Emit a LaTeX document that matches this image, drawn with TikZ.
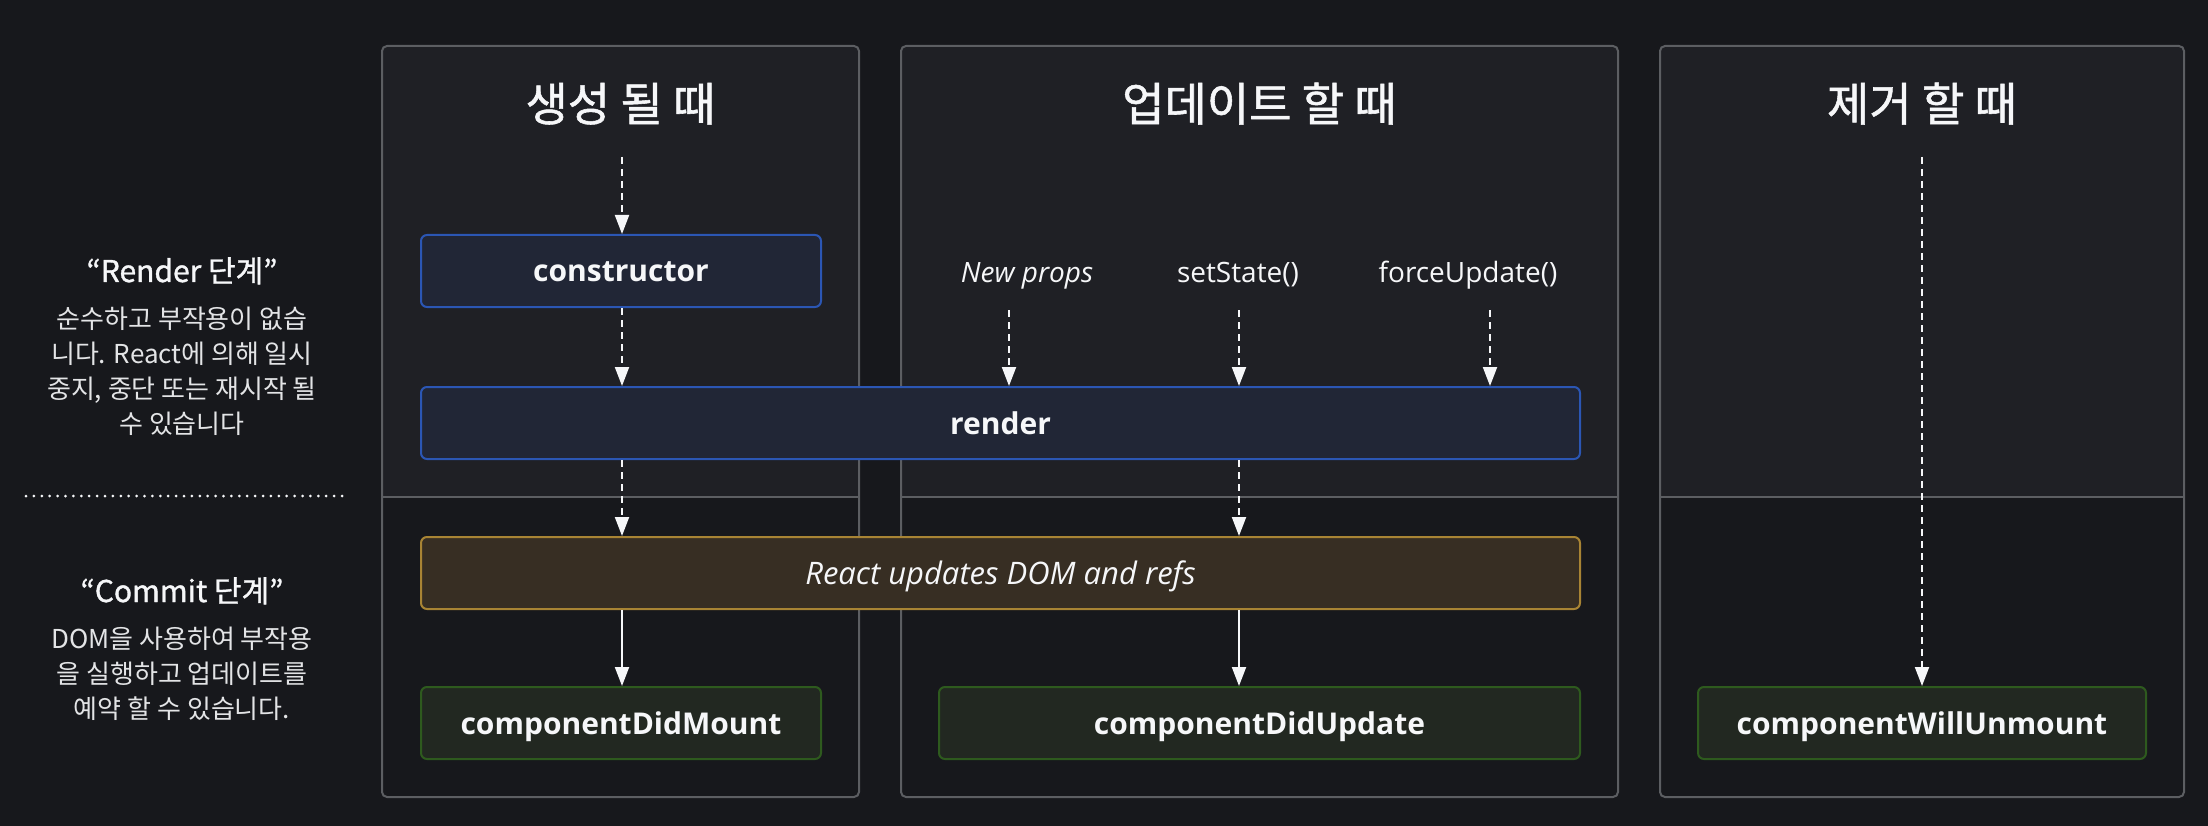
\documentclass[tikz,border=0pt]{standalone}
\usepackage{fontspec}
\setmainfont{Open Sans}
\newfontfamily\kr{Noto Sans CJK KR}
\newfontfamily\krmed[FakeBold=1.2]{Noto Sans CJK KR}
\usetikzlibrary{arrows.meta}

\definecolor{pagebg}{HTML}{17181C}
\definecolor{panelup}{HTML}{1F2025}
\definecolor{panelline}{HTML}{5C5E62}
\definecolor{blueline}{HTML}{2B56B4}
\definecolor{bluefill}{HTML}{212636}
\definecolor{goldline}{HTML}{A88434}
\definecolor{goldfill}{HTML}{372E23}
\definecolor{greenline}{HTML}{2E5A1E}
\definecolor{greenfill}{HTML}{222821}
\definecolor{ink}{HTML}{F6F7F9}
\definecolor{softink}{HTML}{E3E4E6}

\begin{document}
\begin{tikzpicture}[x=1pt, y=-1pt,
  flow/.style={line width=2pt, draw=ink, -{Triangle[length=19pt,width=14pt]}},
  dflow/.style={flow, dash pattern=on 7pt off 5pt},
  stage/.style={rounded corners=6pt, line width=2pt, minimum height=72pt,
    inner sep=0pt, text=ink, text height=22pt, text depth=0pt,
    font=\fontsize{30}{36}\selectfont\bfseries},
  renderbox/.style={stage, draw=blueline, fill=bluefill},
  commitbox/.style={stage, draw=goldline, fill=goldfill,
    font=\fontsize{31}{36}\selectfont\itshape},
  donebox/.style={stage, draw=greenline, fill=greenfill},
  paneltitle/.style={anchor=base, text=ink, inner sep=0pt,
    font=\krmed\fontsize{46}{50}\selectfont},
  trigger/.style={anchor=base, text=ink, inner sep=0pt,
    font=\fontsize{28}{32}\selectfont},
  phasehead/.style={anchor=base, text=ink, inner sep=0pt,
    font=\krmed\fontsize{30}{34}\selectfont},
  phasetext/.style={anchor=base, text=softink, inner sep=0pt,
    font=\kr\fontsize{26}{35}\selectfont}
]
% canvas
\useasboundingbox (0,0) rectangle (2208,826);
\fill[pagebg] (0,0) rectangle (2208,826);

% three lifecycle panels, lighter above the render/commit split
\foreach \l/\r in {382/859, 901/1618, 1660/2184} {
  \fill[panelup, rounded corners=5pt] (\l,46) rectangle (\r,497);
  \fill[panelup] (\l,470) rectangle (\r,497);
  \draw[panelline, line width=2pt] (\l,497) -- (\r,497);
  \draw[panelline, line width=2pt, rounded corners=5pt] (\l,46) rectangle (\r,797);
}

% panel titles
\node[paneltitle] (tmount)   at (620.5,121) {생성 될 때};
\node[paneltitle] (tupdate)  at (1259.5,121) {업데이트 할 때};
\node[paneltitle] (tunmount) at (1922,121) {제거 할 때};

% phase descriptions on the left
\node[phasehead] (hrender) at (182,282) {“Render 단계”};
\node[phasetext] (r1) at (182,328) {순수하고 부작용이 없습};
\node[phasetext] (r2) at (182,363) {니다. React에 의해 일시};
\node[phasetext] (r3) at (182,398) {중지, 중단 또는 재시작 될};
\node[phasetext] (r4) at (182,433) {수 있습니다};

\draw[ink, line width=3pt, line cap=round, dash pattern=on 0pt off 7.9pt]
  (26,496) -- (342,496);

\node[phasehead] (hcommit) at (182,602) {“Commit 단계”};
\node[phasetext] (c1) at (182,648) {DOM을 사용하여 부작용};
\node[phasetext] (c2) at (182,683) {을 실행하고 업데이트를};
\node[phasetext] (c3) at (182,718) {예약 할 수 있습니다.};

% lifecycle methods
\node[renderbox, minimum width=400pt]  (ctor)    at (621,271)    {constructor};
\node[renderbox, minimum width=1159pt] (render)  at (1000.5,423) {render};
\node[commitbox, minimum width=1159pt] (domup)   at (1000.5,573) {React updates DOM and refs};
\node[donebox, minimum width=400pt]    (didmount)  at (621,723)    {componentDidMount};
\node[donebox, minimum width=641pt]    (didupdate) at (1259.5,723) {componentDidUpdate};
\node[donebox, minimum width=448pt]    (willunmount) at (1922,723) {componentWillUnmount};

% update triggers
\node[trigger, font=\fontsize{28}{32}\selectfont\itshape] (props) at (1027,283) {New props};
\node[trigger] (setstate) at (1238,283) {setState()};
\node[trigger] (force)    at (1468,283) {forceUpdate()};

% arrow sources and lanes
\coordinate (mountstart)   at (622,157);
\coordinate (unmountstart) at (1922,157);
\coordinate (mlane)  at (622,0);
\coordinate (ulane)  at (1239,0);
\coordinate (pstart) at (1009,310);
\coordinate (sstart) at (1239,310);
\coordinate (fstart) at (1490,310);

% mount path
\draw[dflow] (mountstart) -- (mountstart |- ctor.north);
\draw[dflow] (mlane |- ctor.south) -- (mlane |- render.north);
\draw[dflow] (mlane |- render.south) -- (mlane |- domup.north);
\draw[flow]  (mlane |- domup.south) -- (mlane |- didmount.north);

% update path
\draw[dflow] (pstart) -- (pstart |- render.north);
\draw[dflow] (sstart) -- (sstart |- render.north);
\draw[dflow] (fstart) -- (fstart |- render.north);
\draw[dflow] (ulane |- render.south) -- (ulane |- domup.north);
\draw[flow]  (ulane |- domup.south) -- (ulane |- didupdate.north);

% unmount path
\draw[dflow] (unmountstart) -- (unmountstart |- willunmount.north);
\end{tikzpicture}
\end{document}
